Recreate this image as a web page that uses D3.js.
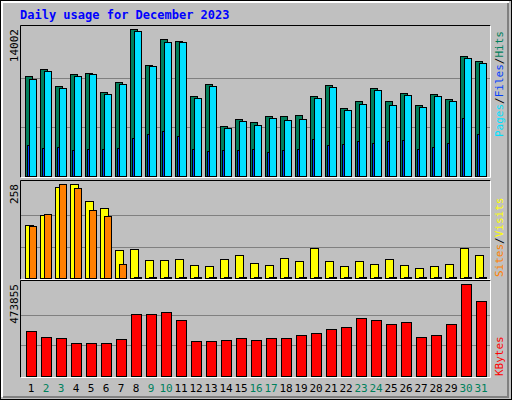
<!DOCTYPE html>
<html><head><meta charset="utf-8">
<script src="https://cdn.jsdelivr.net/npm/d3@7"></script>
<style>body{margin:0;background:#fff}text{font-family:"DejaVu Sans Mono",monospace}</style>
</head><body><svg id="c" width="512" height="400"></svg>
<script>
var days = d3.range(1, 32);
var weekend = [2, 3, 9, 10, 16, 17, 23, 24, 30, 31];
var hits = [9525,10192,8573,9716,9811,8001,8954,14002,10573,13049,12859,7620,8763,4763,5429,5144,5715,5715,5810,7620,8668,6477,7144,8382,7144,7906,6763,7811,7334,11430,10954];
var files = [9239,10001,8382,9525,9716,7811,8763,13811,10478,12764,12764,7430,8573,4572,5239,4858,5525,5334,5429,7430,8477,6287,6858,8192,6763,7715,6572,7620,7144,11240,10763];
var pages = [2953,2667,2762,2477,2572,2572,2667,3620,4001,4286,3810,2572,2381,2477,2477,2572,2286,2477,2572,3524,2953,3048,3334,3143,3334,3429,2572,2762,3143,5525,4001];
var visits = [146,174,250,258,210,191,76,79,50,50,53,36,34,53,62,42,36,56,48,81,48,34,48,39,53,36,28,34,39,81,62];
var sites = [143,177,258,247,188,171,39,2,2,2,2,2,2,2,2,2,2,2,2,2,2,2,2,2,2,2,2,2,2,2,2];
var kbytes = [234325,203077,197870,171835,171835,171835,192663,317633,317633,328047,286397,182249,182249,187456,197870,187456,197870,197870,213491,223905,239532,249945,296809,286397,265562,275976,203077,213491,265562,473855,385325];

var svg = d3.select('#c');
svg.append('rect').attr('x', 0.5).attr('y', 0.5).attr('width', 511).attr('height', 399).attr('fill', '#c0c0c0').attr('stroke', '#000');
svg.append('path').attr('d', 'M2,397V2H509').attr('fill', 'none').attr('stroke', '#fff').attr('stroke-width', 2);
svg.append('path').attr('d', 'M3,397H508V3').attr('fill', 'none').attr('stroke', '#808080').attr('stroke-width', 2);
svg.append('text').attr('x', 20).attr('y', 19).attr('fill', '#0000ff').attr('font-weight', 'bold').attr('font-size', 12).text('Daily usage for December 2023');

var x = d3.scaleLinear().domain([1, 31]).range([25, 475]);

function panel(top, bottom, max, label) {
  svg.append('rect').attr('x', 20.5).attr('y', top + 0.5).attr('width', 470).attr('height', bottom - top).attr('fill', '#c0c0c0');
  var y = d3.scaleLinear().domain([0, max]).range([bottom - 1, top + 4]);
  [1 / 3, 2 / 3].forEach(function(f) {
    svg.append('line').attr('x1', 21).attr('x2', 490).attr('y1', Math.round(y(max * f)) + 0.5).attr('y2', Math.round(y(max * f)) + 0.5).attr('stroke', '#808080');
  });
  svg.append('path').attr('d', 'M20.5,' + (bottom + 0.5) + 'V' + (top + 0.5) + 'H490.5').attr('fill', 'none').attr('stroke', '#000');
  svg.append('path').attr('d', 'M20.5,' + (bottom + 0.5) + 'H490.5V' + (top + 0.5)).attr('fill', 'none').attr('stroke', '#fff');
  svg.append('text').attr('transform', 'translate(18,' + y(max) + ') rotate(-90)').attr('text-anchor', 'end').attr('font-size', 11).text(label);
  return y;
}

function bars(data, y, dx, w, color) {
  svg.append('g').selectAll('rect').data(data).join('rect')
    .attr('x', function(d, i) { return x(days[i]) + dx + 0.5; })
    .attr('y', function(d) { return Math.round(y(d)) + 0.5; })
    .attr('width', w)
    .attr('height', function(d) { return y(0) - Math.round(y(d)); })
    .attr('fill', color).attr('stroke', '#000');
}

var y1 = panel(25, 177, 14002, '14002');
bars(hits, y1, 0, 7, '#00805c');
bars(files, y1, 4, 7, '#00e0ff');
bars(pages, y1, 2, 2, '#0040ff');

var y2 = panel(180, 279, 258, '258');
bars(visits, y2, 0, 8, '#ffff00');
bars(sites, y2, 4, 7, '#ff8000');

var y3 = panel(280, 377, 473855, '473855');
bars(kbytes, y3, 1, 10, '#ff0000');

svg.append('g').selectAll('text').data(days).join('text')
  .attr('x', function(d) { return x(d) + 6; }).attr('y', 392)
  .attr('text-anchor', 'middle').attr('font-size', 11)
  .attr('fill', function(d) { return weekend.indexOf(d) >= 0 ? '#00805c' : '#000'; })
  .text(function(d) { return d; });

function sideLabel(yEnd, parts) {
  var t = svg.append('text').attr('transform', 'translate(503,' + yEnd + ') rotate(-90)').attr('font-size', 11);
  parts.forEach(function(p) { t.append('tspan').attr('fill', p[1]).text(p[0]); });
}
sideLabel(137, [['Pages', '#00e0ff'], ['/', '#000'], ['Files', '#0040ff'], ['/', '#000'], ['Hits', '#00805c']]);
sideLabel(277, [['Sites', '#ff8000'], ['/', '#000'], ['Visits', '#ffff00']]);
sideLabel(376, [['KBytes', '#ff0000']]);
</script></body></html>
